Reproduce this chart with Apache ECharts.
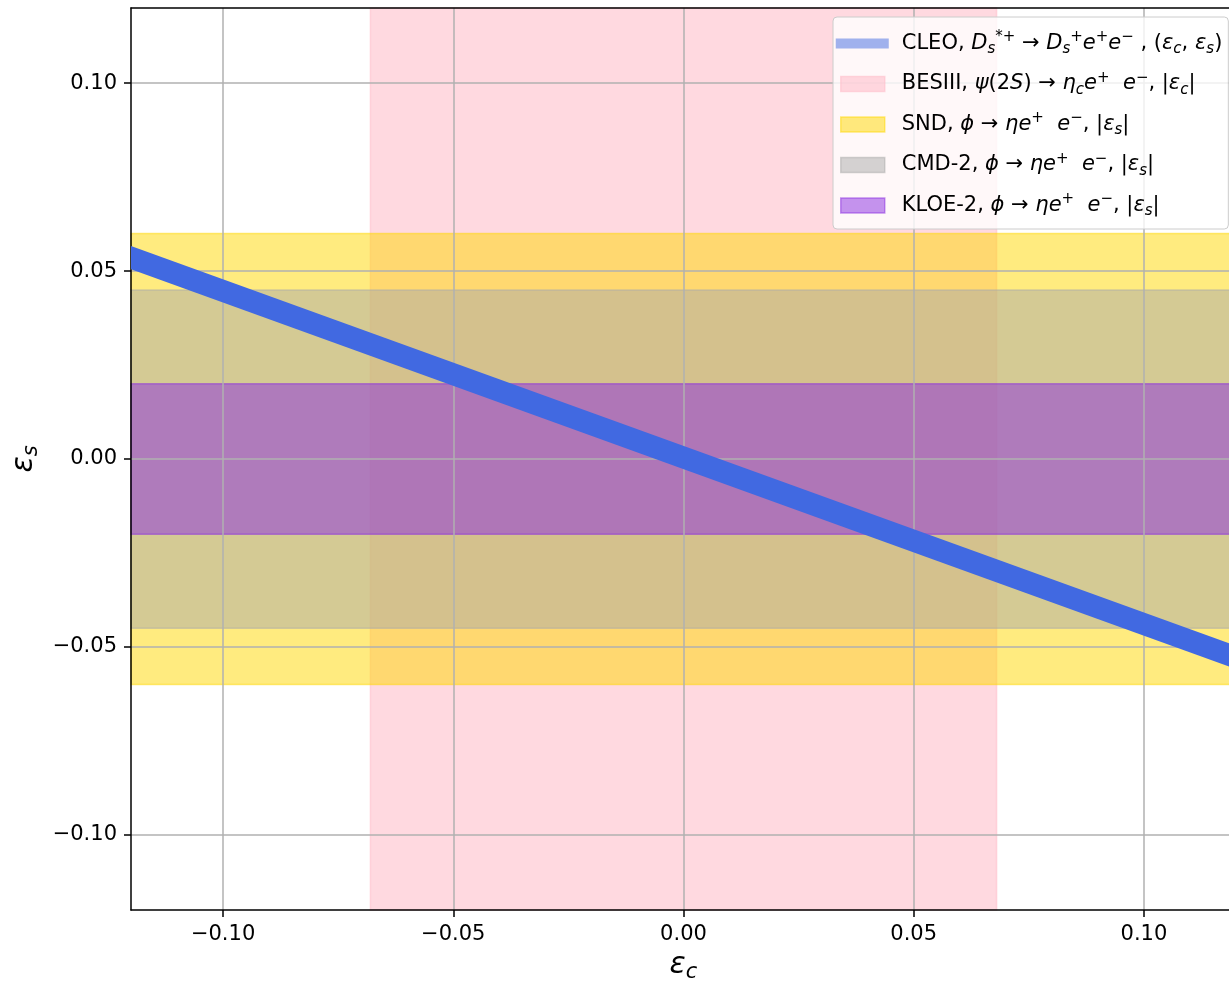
<!DOCTYPE html>
<html>
<head>
<meta charset="utf-8">
<script src="https://cdn.jsdelivr.net/npm/echarts@6/dist/echarts.min.js"></script>
<style>
  html, body { margin: 0; padding: 0; background: #fff; }
  #chart { width: 1229px; height: 981px; }
</style>
</head>
<body>
<div id="chart"></div>
<script>
// Axis ranges and tick values
const xRange = [-0.12, 0.12];
const yRange = [-0.12, 0.12];
const xTicks = [-0.10, -0.05, 0.00, 0.05, 0.10];
const yTicks = [-0.10, -0.05, 0.00, 0.05, 0.10];

// CLEO allowed strip in the (eps_c, eps_s) plane: lower / upper edge at the ends of the eps_c range
const cleoEpsC  = [-0.12, 0.12];
const cleoLower = [0.0505, -0.0559];
const cleoUpper = [0.0567, -0.0497];

// Symmetric one-parameter limits
const besiiiLimit = 0.068; // |eps_c|
const sndLimit    = 0.060; // |eps_s|
const cmd2Limit   = 0.045; // |eps_s|
const kloe2Limit  = 0.020; // |eps_s|

const FONT = 'DejaVu Sans';
const C_CLEO   = '#4169E1';
const C_BESIII = 'rgba(255,192,203,0.6)';
const C_SND    = 'rgba(255,215,0,0.5)';
const C_CMD2   = 'rgba(169,169,169,0.5)';
const C_KLOE2  = 'rgba(138,43,226,0.5)';

const cleoData = cleoEpsC.map((x, i) => [x, cleoLower[i], cleoUpper[i]]);

function fmt(v) {
  const s = Math.abs(v).toFixed(2);
  return (v < -1e-9 ? '\u2212' : '') + s;
}

// legend labels with math-style sub/superscripts
const legendText = {
  'CLEO':   '{t|CLEO, }{i|D}{sub|s}{sup|*+}{t| \u2192 }{i|D}{sub|s}{sup|+}{i|e}{sup|+}{i|e}{sup|\u2212}{t| , (}{i|\u03b5}{sub|c}{t|, }{i|\u03b5}{sub|s}{t|)}',
  'BESIII': '{t|BESIII, }{i|\u03c8}{t|(2}{i|S}{t|) \u2192 }{i|\u03b7}{sub|c}{i|e}{sup|+}{t|  }{i|e}{sup|\u2212}{t|, |}{i|\u03b5}{sub|c}{t||}',
  'SND':    '{t|SND, }{i|\u03d5}{t| \u2192 }{i|\u03b7e}{sup|+}{t|  }{i|e}{sup|\u2212}{t|, |}{i|\u03b5}{sub|s}{t||}',
  'CMD-2':  '{t|CMD-2, }{i|\u03d5}{t| \u2192 }{i|\u03b7e}{sup|+}{t|  }{i|e}{sup|\u2212}{t|, |}{i|\u03b5}{sub|s}{t||}',
  'KLOE-2': '{t|KLOE-2, }{i|\u03d5}{t| \u2192 }{i|\u03b7e}{sup|+}{t|  }{i|e}{sup|\u2212}{t|, |}{i|\u03b5}{sub|s}{t||}'
};

const LFS = 21;
const legendRich = {
  t:   { fontFamily: FONT, fontSize: LFS, color: '#000', lineHeight: 27 },
  i:   { fontFamily: FONT, fontSize: LFS, color: '#000', fontStyle: 'italic', lineHeight: 27 },
  sub: { fontFamily: FONT, fontSize: 15, color: '#000', fontStyle: 'italic', verticalAlign: 'bottom', lineHeight: 15 },
  sup: { fontFamily: FONT, fontSize: 15, color: '#000', verticalAlign: 'top', lineHeight: 15 }
};

// icon boxes are 61 x 15: a thin bar for the strip, inset patches for the bands
const lineIcon  = 'path://M0,0 M61,15 M0,2.5 L53,2.5 L53,12.5 L0,12.5 Z';
const patchIcon = 'path://M0,0 M61,15 M5,0 L49,0 L49,15 L5,15 Z';

function bandSeries(name, color, area) {
  return {
    name: name,
    type: 'line',
    data: [],
    z: 2,
    silent: true,
    markArea: {
      silent: true,
      itemStyle: { color: color, borderColor: color, borderWidth: 1.5 },
      data: [area]
    }
  };
}

const axisNameRich = {
  e: { fontFamily: FONT, fontStyle: 'italic', fontSize: 30, color: '#000', lineHeight: 36 },
  s: { fontFamily: FONT, fontStyle: 'italic', fontSize: 21, color: '#000', verticalAlign: 'bottom', lineHeight: 26 }
};

const chart = echarts.init(document.getElementById('chart'), null, { renderer: 'canvas' });

chart.setOption({
  animation: false,
  backgroundColor: '#fff',
  grid: { left: 131, top: 8, width: 1105, height: 902, containLabel: false, outerBoundsMode: 'none' },
  legend: {
    orient: 'vertical',
    left: 833,
    top: 17,
    padding: [13, 6, 10, 2],
    itemGap: 13.5,
    itemWidth: 61,
    itemHeight: 15,
    selectedMode: false,
    backgroundColor: 'rgba(255,255,255,0.8)',
    borderColor: '#cccccc',
    borderWidth: 1,
    borderRadius: 4,
    symbolKeepAspect: false,
    z: 10,
    formatter: n => legendText[n],
    textStyle: { rich: legendRich },
    data: [
      { name: 'CLEO',   icon: lineIcon,  itemStyle: { color: 'rgba(65,105,225,0.5)', borderWidth: 0 } },
      { name: 'BESIII', icon: patchIcon, itemStyle: { color: C_BESIII, borderColor: C_BESIII, borderWidth: 1.5 } },
      { name: 'SND',    icon: patchIcon, itemStyle: { color: C_SND,    borderColor: C_SND,    borderWidth: 1.5 } },
      { name: 'CMD-2',  icon: patchIcon, itemStyle: { color: C_CMD2,   borderColor: C_CMD2,   borderWidth: 1.5 } },
      { name: 'KLOE-2', icon: patchIcon, itemStyle: { color: C_KLOE2,  borderColor: C_KLOE2,  borderWidth: 1.5 } }
    ]
  },
  xAxis: [{
    type: 'value',
    position: 'bottom',
    min: xRange[0],
    max: xRange[1],
    z: 3,
    name: '{e|\u03b5}{s|c}',
    nameLocation: 'middle',
    nameGap: 34,
    nameTextStyle: { rich: axisNameRich },
    axisLine: { show: true, onZero: false, lineStyle: { color: '#000', width: 1.5 } },
    axisTick: { show: true, inside: false, length: 7, customValues: xTicks, lineStyle: { color: '#000', width: 1.5 } },
    axisLabel: { customValues: xTicks, margin: 14, fontFamily: FONT, fontSize: 21, color: '#000', formatter: fmt },
    splitLine: { show: true, lineStyle: { color: '#b0b0b0', width: 1.5 } }
  }, {
    type: 'value',
    position: 'top',
    min: xRange[0],
    max: xRange[1],
    z: 3,
    axisLine: { show: true, onZero: false, lineStyle: { color: '#000', width: 1.5 } },
    axisTick: { show: false },
    axisLabel: { show: false },
    splitLine: { show: false }
  }],
  yAxis: [{
    type: 'value',
    position: 'left',
    min: yRange[0],
    max: yRange[1],
    z: 3,
    name: '{e|\u03b5}{s|s}',
    nameLocation: 'middle',
    nameRotate: 90,
    nameGap: 72,
    nameTextStyle: { rich: axisNameRich },
    axisLine: { show: true, onZero: false, lineStyle: { color: '#000', width: 1.5 } },
    axisTick: { show: true, inside: false, length: 7, customValues: yTicks, lineStyle: { color: '#000', width: 1.5 } },
    axisLabel: { customValues: yTicks, margin: 14, fontFamily: FONT, fontSize: 21, color: '#000', formatter: fmt },
    splitLine: { show: true, lineStyle: { color: '#b0b0b0', width: 1.5 } }
  }],
  series: [
    bandSeries('BESIII', C_BESIII, [{ xAxis: -besiiiLimit }, { xAxis: besiiiLimit }]),
    bandSeries('SND',    C_SND,    [{ yAxis: -sndLimit },    { yAxis: sndLimit }]),
    bandSeries('CMD-2',  C_CMD2,   [{ yAxis: -cmd2Limit },   { yAxis: cmd2Limit }]),
    bandSeries('KLOE-2', C_KLOE2,  [{ yAxis: -kloe2Limit },  { yAxis: kloe2Limit }]),
    {
      name: 'CLEO',
      type: 'custom',
      z: 5,
      silent: true,
      color: C_CLEO,
      data: cleoData,
      encode: { x: 0, y: [1, 2] },
      renderItem: function (params, api) {
        const i = params.dataIndex;
        if (i >= cleoData.length - 1) return null;
        const a = cleoData[i], b = cleoData[i + 1];
        const pts = [
          api.coord([a[0], a[1]]),
          api.coord([b[0], b[1]]),
          api.coord([b[0], b[2]]),
          api.coord([a[0], a[2]])
        ];
        return {
          type: 'polygon',
          shape: { points: pts },
          style: { fill: C_CLEO, stroke: null }
        };
      }
    }
  ]
});
</script>
</body>
</html>
